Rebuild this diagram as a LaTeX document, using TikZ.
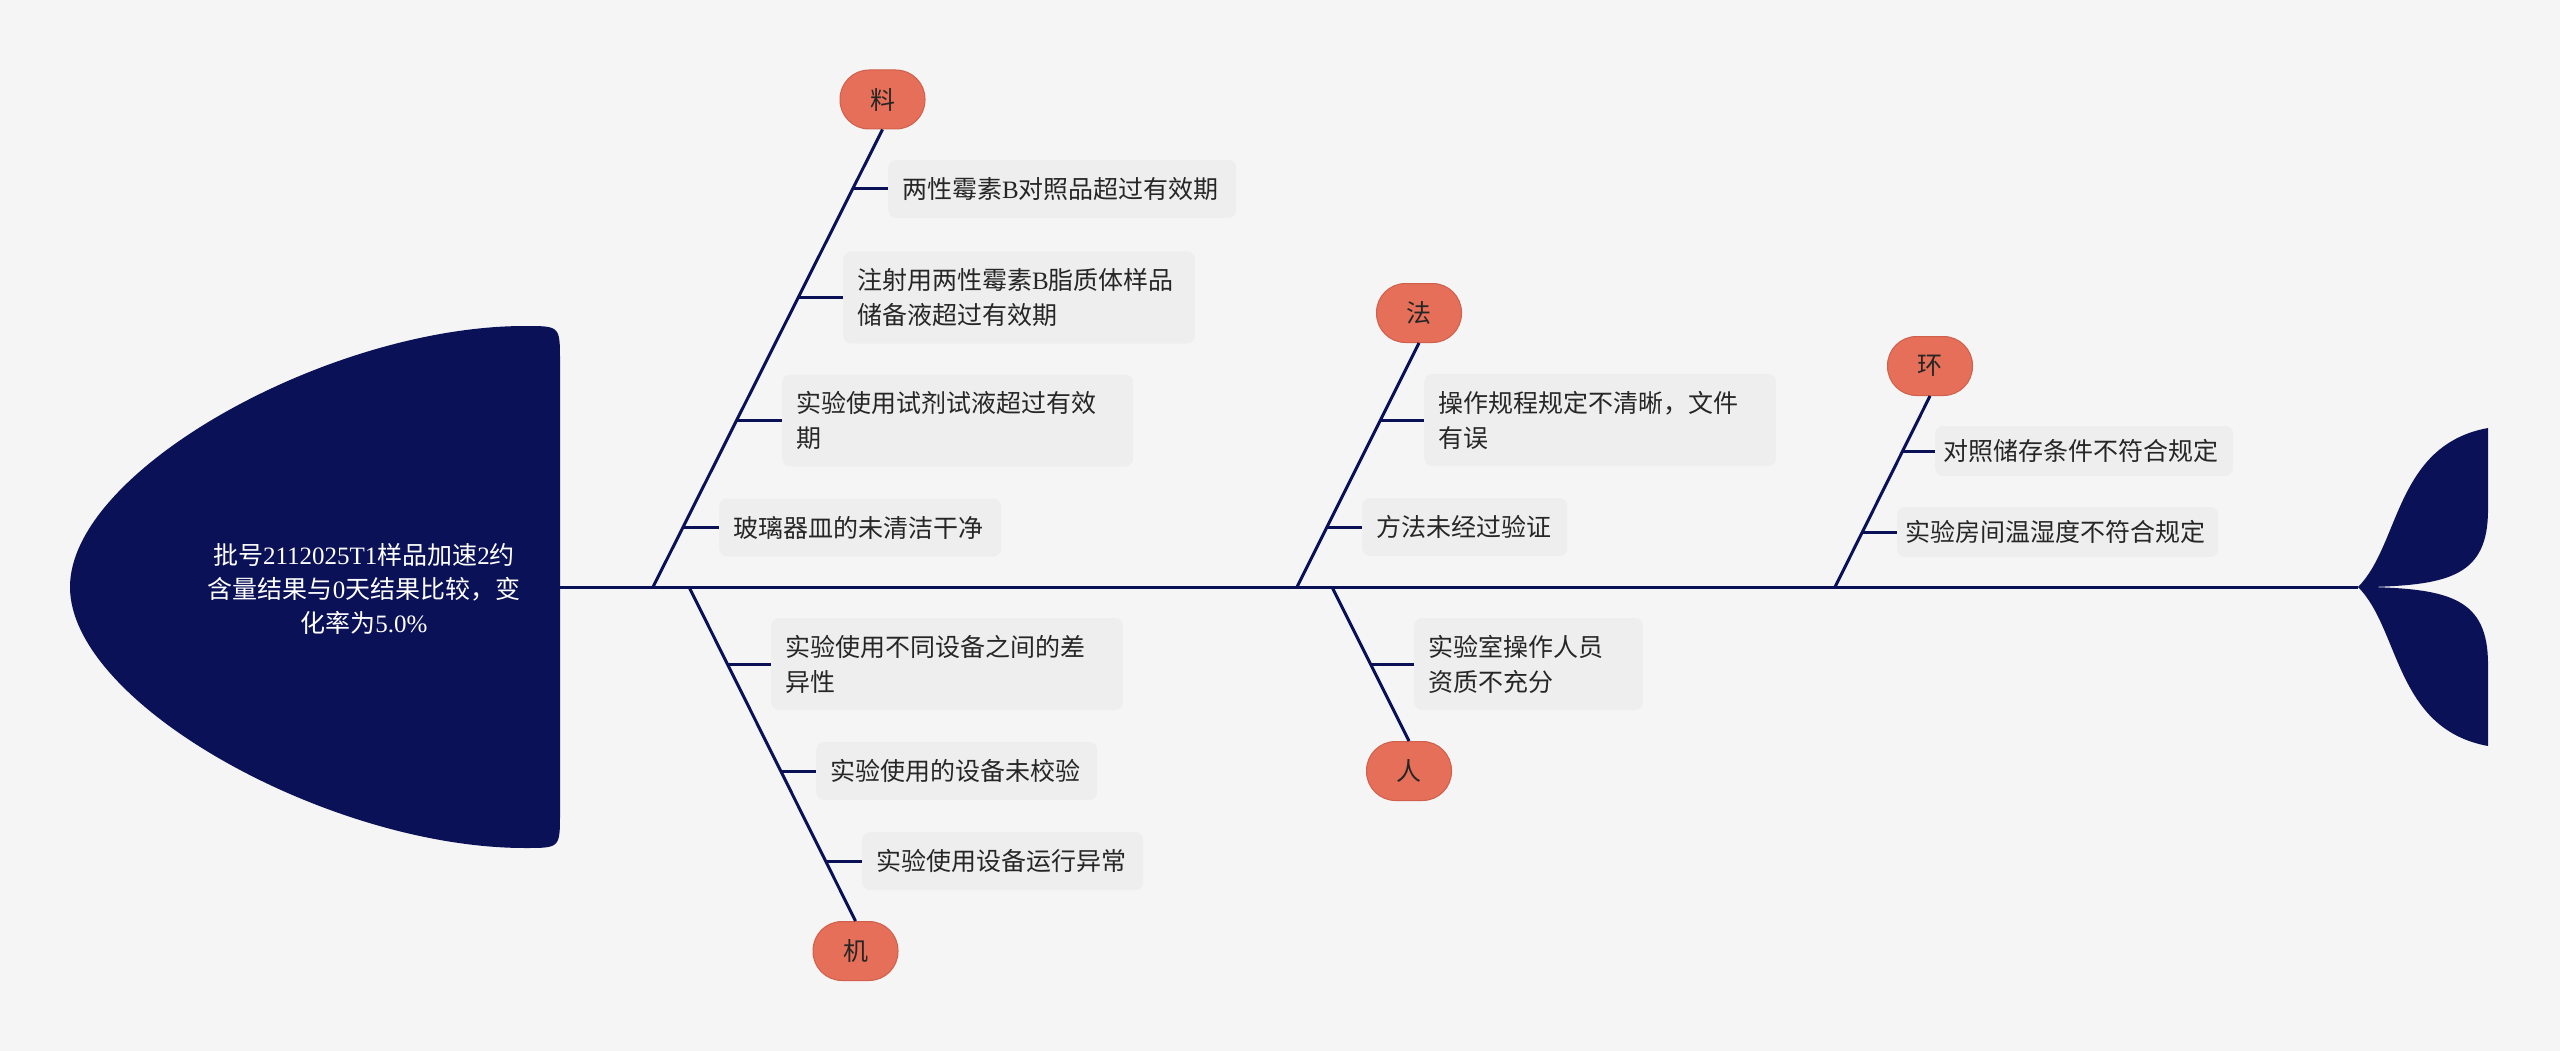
\documentclass[tikz,border=0pt]{standalone}
\usepackage{fontspec}
\setmainfont{Noto Sans CJK SC}
\newfontfamily\lat{Liberation Serif}
\usetikzlibrary{calc}
\definecolor{bg}{HTML}{F5F5F5}
\definecolor{navy}{HTML}{0B1157}
\definecolor{coral}{HTML}{E56F58}
\definecolor{coralD}{HTML}{D0604B}
\definecolor{boxfill}{HTML}{EEEEEE}
\definecolor{txt}{HTML}{262626}
\newcommand\myfs{\fontsize{25}{35}\selectfont}
\begin{document}
\begin{tikzpicture}[x=1pt,y=-1pt,
  bone/.style={draw=navy,line width=3pt},
  cause/.style={rectangle,rounded corners=29pt,fill=coral,draw=coralD,line width=1pt,
    minimum width=85pt,minimum height=59pt,inner sep=0pt,font=\myfs,text=txt},
  item/.style={rectangle,rounded corners=8pt,fill=boxfill,anchor=west,align=left,
    inner xsep=14pt,inner ysep=0pt,font=\myfs,text=txt,minimum height=58pt},
  item2/.style={item,minimum height=92pt},
  itemE/.style={item,inner xsep=8pt,minimum height=50pt}]
\useasboundingbox (0,0) rectangle (2560,1051);
\fill[bg] (0,0) rectangle (2560,1051);

% head
\fill[navy] (70,587) .. controls (70,470) and (330,326) .. (525,326)
  .. controls (560,326) .. (560,361) -- (560,813)
  .. controls (560,848) .. (525,848)
  .. controls (330,848) and (70,704) .. (70,587) -- cycle;
\node[text=white,align=center,font=\fontsize{25}{34}\selectfont] (head) at (364,589)
  {批号{\lat 2112025T1}样品加速{\lat 2}约\\含量结果与{\lat 0}天结果比较，变\\化率为{\lat 5.0\%}};

% spine and tail
\coordinate (headR) at (560,587);
\coordinate (tailJ) at (2358,587);
\draw[bone] (headR) -- (tailJ);
\fill[navy] (tailJ) .. controls (2400,545) and (2395,445) .. (2488,428) -- (2488,510)
  .. controls (2488,575) and (2450,585) .. (2370,587) -- cycle;
\fill[navy] (tailJ) .. controls (2400,629) and (2395,729) .. (2488,746) -- (2488,664)
  .. controls (2488,599) and (2450,589) .. (2370,587) -- cycle;

% cause nodes
\node[cause] (liao) at (882.5,99.5) {料};
\node[cause] (ji) at (855.5,951) {机};
\node[cause] (fa) at (1419,313) {法};
\node[cause] (ren) at (1409,771) {人};
\node[cause] (huan) at (1930,366) {环};

% bones
\coordinate (bLiao) at (653,587);
\coordinate (bJi) at (689,587);
\coordinate (bFa) at (1297,587);
\coordinate (bRen) at (1332,587);
\coordinate (bHuan) at (1835,587);
\draw[bone] (bLiao) -- (liao.south);
\draw[bone] (bJi) -- (ji.north);
\draw[bone] (bFa) -- (fa.south);
\draw[bone] (bRen) -- (ren.north);
\draw[bone] (bHuan) -- (huan.south);

% items: liao
\node[item,text width=320pt] (l1) at (888,189) {两性霉素{\lat B}对照品超过有效期};
\node[item2,text width=324pt] (l2) at (843,297.5) {注射用两性霉素{\lat B}脂质体样品\\储备液超过有效期};
\node[item2,text width=323pt] (l3) at (782,420.5) {实验使用试剂试液超过有效\\期};
\node[item,text width=254pt] (l4) at (719,527.5) {玻璃器皿的未清洁干净};
\coordinate (tl1) at (852,189);
\coordinate (tl2) at (797.75,297.5);
\coordinate (tl3) at (736.25,420.5);
\coordinate (tl4) at (682.75,527.5);
\foreach \i in {1,2,3,4} \draw[bone] (tl\i) -- (l\i.west);

% items: ji
\node[item2,text width=324pt] (j1) at (771,664) {实验使用不同设备之间的差\\异性};
\node[item,text width=253pt] (j2) at (816,771) {实验使用的设备未校验};
\node[item,text width=253pt] (j3) at (862,861) {实验使用设备运行异常};
\coordinate (tj1) at (727.2,664);
\coordinate (tj2) at (780.2,771);
\coordinate (tj3) at (824.8,861);
\foreach \i in {1,2,3} \draw[bone] (tj\i) -- (j\i.west);

% items: fa
\node[item2,text width=324pt] (f1) at (1424,420) {操作规程规定不清晰，文件\\有误};
\node[item,text width=177pt] (f2) at (1362,527) {方法未经过验证};
\coordinate (tf1) at (1380.5,420);
\coordinate (tf2) at (1327,527);
\foreach \i in {1,2} \draw[bone] (tf\i) -- (f\i.west);

% items: ren
\node[item2,text width=201pt] (r1) at (1414,664) {实验室操作人员\\资质不充分};
\coordinate (tr1) at (1370.3,664);
\draw[bone] (tr1) -- (r1.west);

% items: huan
\node[itemE,text width=282pt] (h1) at (1935,451) {对照储存条件不符合规定};
\node[itemE,text width=305pt] (h2) at (1897,532) {实验房间温湿度不符合规定};
\coordinate (th1) at (1902.3,451);
\coordinate (th2) at (1862.2,532);
\foreach \i in {1,2} \draw[bone] (th\i) -- (h\i.west);
\end{tikzpicture}
\end{document}
